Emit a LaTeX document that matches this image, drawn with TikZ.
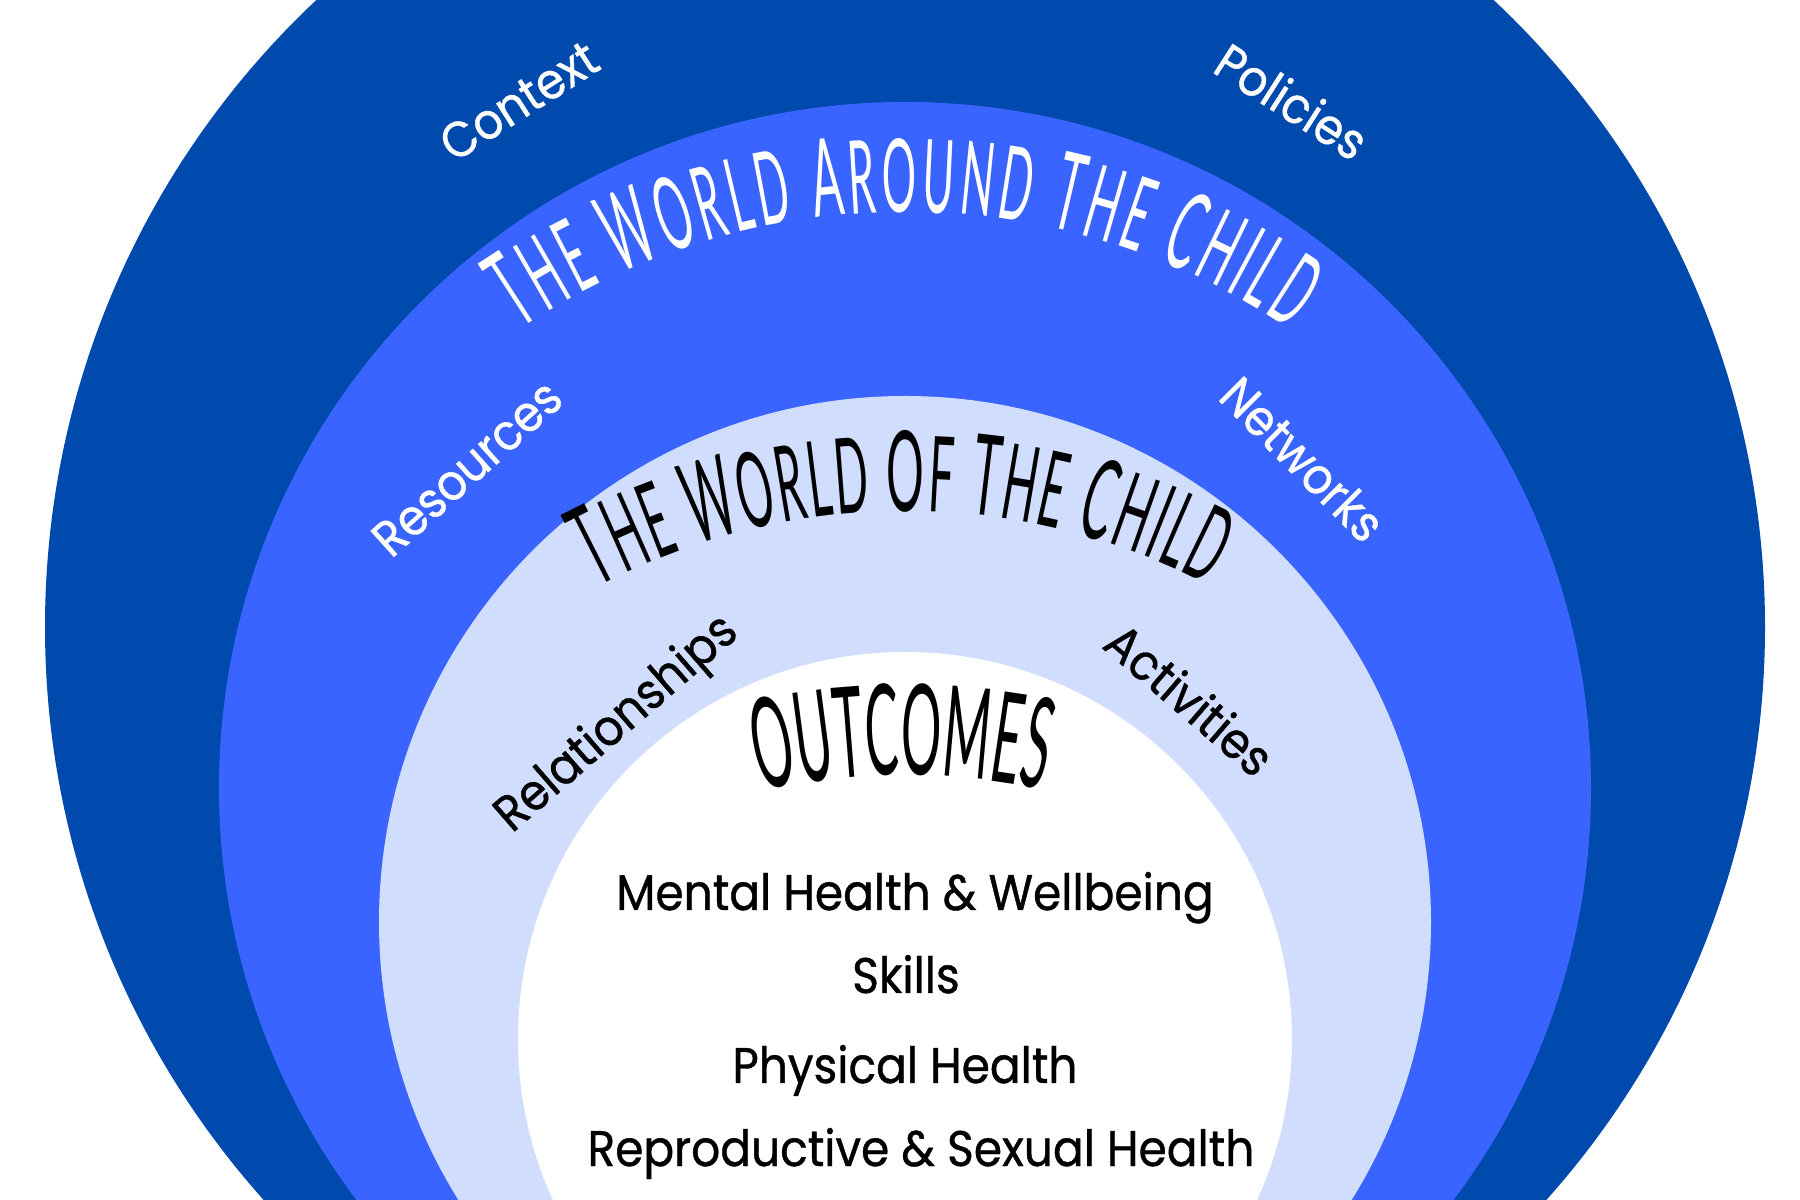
\documentclass[tikz,border=0pt]{standalone}
\usepackage{fontspec}
\setmainfont{Poppins}
\newfontfamily\labelfont[FakeStretch=0.91,FakeBold=0.8]{Poppins}
\newfontfamily\handfont[FakeStretch=0.42]{Lato}
\newfontfamily\handfontc[FakeStretch=0.40]{Lato}
\usetikzlibrary{decorations.text,calc}
\definecolor{darkblue}{HTML}{004AAD}
\definecolor{midblue}{HTML}{3A64FF}
\definecolor{lightblue}{HTML}{D0DDFC}
\newcommand\hdbig{\handfont\fontsize{108}{120}\selectfont}
\newcommand\hdsm{\handfont\fontsize{102}{110}\selectfont}
\newcommand\hdbigb{\handfont\fontsize{112}{120}\selectfont}
\newcommand\hdsmb{\handfont\fontsize{105}{110}\selectfont}
\newcommand\hdout{\handfontc\fontsize{126}{130}\selectfont}
\begin{document}
\begin{tikzpicture}[x=1pt,y=1pt,
  lbl/.style={font=\labelfont\fontsize{50}{56}\selectfont, inner sep=0pt},
  wlbl/.style={lbl, text=white},
  blbl/.style={lbl, text=black},
  item/.style={lbl, anchor=base, text=black}]
\useasboundingbox (0,0) rectangle (1800,1200);
\begin{scope}
\clip (0,0) rectangle (1800,1200);
\fill[darkblue] (905,573) circle[radius=860];
\fill[midblue] (905,412) circle[radius=686];
\fill[lightblue] (905,278) circle[radius=526];
\fill[white] (905,161) circle[radius=387];
\end{scope}
% arcs for titles
\coordinate (c1) at (905,299);
\coordinate (s1) at ($(c1)+(124:689)$);
\coordinate (c2) at (905,33);
\coordinate (s2) at ($(c2)+(118:656)$);
\coordinate (c3) at (905,-236);
\coordinate (s3) at ($(c3)+(102.6:661)$);
\path[decorate, decoration={text along path, text align=fit to path, text color=white,
  text={|\hdbig|T|\hdsm|HE |\hdbig|W|\hdsm|ORLD |\hdbig|A|\hdsm|ROUND |\hdbig|T|\hdsm|HE |\hdbig|C|\hdsm|HILD}}]
  (s1) arc[start angle=124, end angle=56, radius=689];
\path[decorate, decoration={text along path, text align=fit to path, text color=black,
  text={|\hdbigb|T|\hdsmb|HE |\hdbigb|W|\hdsmb|ORLD |\hdbigb|O|\hdsmb|F |\hdbigb|T|\hdsmb|HE |\hdbigb|C|\hdsmb|HILD}}]
  (s2) arc[start angle=118, end angle=62.5, radius=656];
\path[decorate, decoration={text along path, text align=fit to path, text color=black,
  text={|\hdout|OUTCOMES}}]
  (s3) arc[start angle=102.6, end angle=78.2, radius=661];
% labels
\node[wlbl, rotate=32.6] (context) at (519,1099) {Context};
\node[wlbl, rotate=-32.6] (policies) at (1292,1099) {Policies};
\node[wlbl, rotate=42] (resources) at (467,732) {Resources};
\node[wlbl, rotate=-45] (networks) at (1303,741) {Networks};
\node[blbl, rotate=41] (relationships) at (618,475) {Relationships};
\node[blbl, rotate=-40.7] (activities) at (1190,501) {Activities};
\node[item] (mental) at (915,290) {Mental Health \& Wellbeing};
\node[item] (skills) at (906,207) {Skills};
\node[item] (physical) at (905,117) {Physical Health};
\node[item] (repro) at (921,34) {Reproductive \& Sexual Health};
\end{tikzpicture}
\end{document}
